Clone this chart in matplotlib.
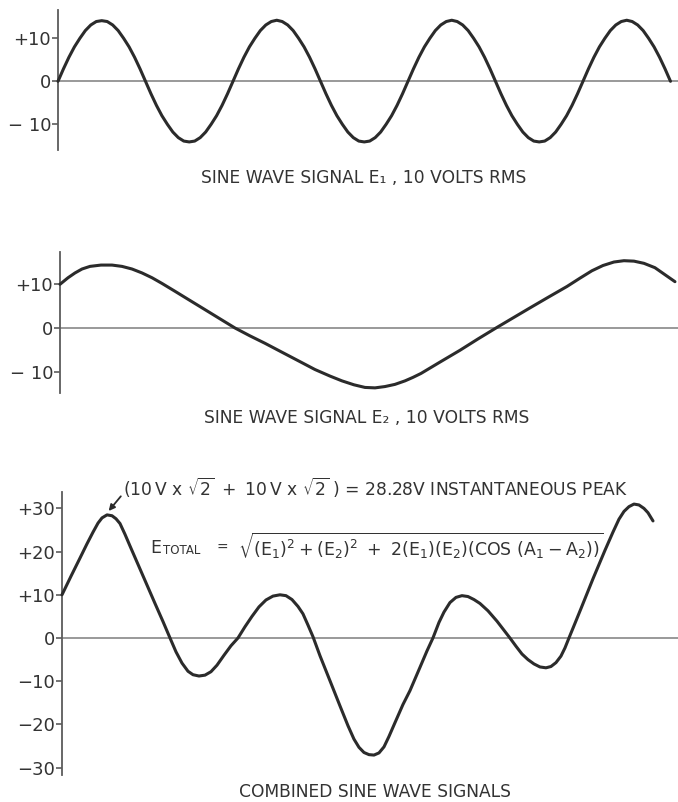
import numpy as np
import matplotlib
matplotlib.use("Agg")
import matplotlib.pyplot as plt

plt.rcParams['font.family'] = ['DejaVu Sans']
plt.rcParams['mathtext.fontset'] = 'dejavusans'
plt.rcParams['mathtext.default'] = 'regular'

# ---- data (time axis in degrees of E1 phase) ----
e1_t = np.arange(0, 1261, 11.25)
e1_v = [0, 2.9, 5.6, 8.0, 10.0, 11.8, 13.1, 13.9, 14.1, 13.9, 13.1, 11.8, 10.0, 8.0, 5.6, 2.9,
        0, -2.9, -5.6, -8.0, -10.0, -11.8, -13.1, -13.9, -14.1, -13.9, -13.1, -11.8, -10.0, -8.0, -5.6, -2.9,
        0, 2.9, 5.6, 8.0, 10.0, 11.8, 13.1, 13.9, 14.2, 13.9, 13.1, 11.8, 10.0, 8.0, 5.6, 2.9,
        0, -2.9, -5.6, -8.0, -10.0, -11.8, -13.1, -13.9, -14.1, -13.9, -13.1, -11.8, -10.0, -8.0, -5.6, -2.9,
        0, 2.9, 5.6, 8.0, 10.0, 11.8, 13.1, 13.9, 14.2, 13.9, 13.1, 11.8, 10.0, 8.0, 5.6, 2.9,
        0, -2.9, -5.6, -8.0, -10.0, -11.8, -13.1, -13.9, -14.1, -13.9, -13.1, -11.8, -10.0, -8.0, -5.6, -2.9,
        0, 2.9, 5.6, 8.0, 10.0, 11.8, 13.1, 13.9, 14.2, 13.9, 13.1, 11.8, 10.0, 8.0, 5.6, 2.9, 0]

e2_t = [0, 16.5, 30.9, 45.3, 61.7, 84.3, 107, 127.5, 148.1, 168.7, 189.3, 209.8, 236.6, 267.4,
        298.3, 329.1, 360, 390.8, 421.7, 452.5, 493.7, 524.5, 555.4, 580.1, 604.8, 627.4, 648,
        668.5, 689.1, 709.7, 726.1, 742.6, 781.7, 822.8, 859.9, 896.9, 931.8, 966.8, 1003.8,
        1042.9, 1069.6, 1094.3, 1117, 1139.6, 1160.1, 1180.7, 1201.3, 1223.9, 1244.5, 1265.1]
e2_v = [10.0, 11.5, 12.6, 13.5, 14.1, 14.4, 14.4, 14.1, 13.5, 12.6, 11.5, 10.2, 8.4, 6.3,
        4.2, 2.1, 0, -1.8, -3.5, -5.3, -7.7, -9.5, -11.0, -12.1, -13.0, -13.6, -13.7,
        -13.4, -12.9, -12.1, -11.3, -10.4, -7.8, -5.1, -2.5, 0, 2.3, 4.6, 7.0,
        9.5, 11.4, 13.1, 14.3, 15.1, 15.4, 15.3, 14.8, 13.8, 12.2, 10.6]

ec_t = [0, 18.5, 37, 51.4, 63.8, 74.1, 82.3, 92.6, 102.9, 111.1, 119.3, 129.6, 139.9, 160.4,
        191.3, 207.8, 222.2, 234.5, 246.8, 259.2, 269.5, 281.8, 294.2, 306.5, 318.8, 333.2,
        347.6, 362, 376.4, 390.8, 405.2, 419.6, 434, 448.4, 460.8, 473.1, 485.5, 495.7, 506,
        516.3, 530.7, 551.3, 571.8, 588.3, 600.6, 610.9, 621.2, 631.5, 641.8, 652.1, 662.4,
        672.6, 685, 701.4, 715.8, 736.4, 750.8, 763.1, 775.5, 785.8, 798.1, 810.5, 822.8,
        835.1, 847.5, 859.8, 876.3, 894.8, 909.2, 921.5, 933.9, 946.2, 958.6, 970.9, 983.2,
        995.6, 1005.9, 1016.2, 1026.4, 1034.7, 1042.9, 1055.3, 1067.6, 1092.3, 1117, 1133.4,
        1145.8, 1156.1, 1166.3, 1176.6, 1186.9, 1197.2, 1205.5, 1215.8]
ec_v = [10.0, 14.3, 18.5, 21.8, 24.5, 26.6, 27.8, 28.5, 28.3, 27.6, 26.5, 24.0, 21.3, 16.0,
        8.0, 3.8, 0, -3.2, -5.8, -7.7, -8.5, -8.8, -8.6, -7.8, -6.3, -4.0,
        -1.8, 0, 2.6, 5.0, 7.2, 8.8, 9.7, 10.0, 9.8, 8.9, 7.3, 5.6, 3.0,
        0.3, -4.1, -9.9, -15.7, -20.3, -23.4, -25.3, -26.5, -27.0, -27.1, -26.6, -25.2,
        -22.8, -19.6, -15.4, -12.2, -6.8, -3.0, 0, 3.6, 6.0, 8.2, 9.4, 9.8,
        9.6, 8.9, 8.0, 6.3, 3.9, 1.8, 0, -1.9, -3.7, -5.0, -6.0, -6.7,
        -6.9, -6.6, -5.7, -4.2, -2.3, 0, 3.4, 6.8, 13.7, 20.3, 24.5,
        27.5, 29.3, 30.4, 31.0, 30.8, 30.0, 29.0, 27.1]

ticks_small = [-10, 0, 10]
ticklabels_small = ['\u2212 10', '0', '+10']
ticks_big = [-30, -20, -10, 0, 10, 20, 30]
ticklabels_big = ['\u221230', '\u221220', '\u221210', '0', '+10', '+20', '+30']

# ---- figure ----
W, H = 678, 802
fig = plt.figure(figsize=(W / 100, H / 100), dpi=100)
fig.patch.set_facecolor('white')

PX = 0.4861  # pixels per degree
CURVE = '#2b2b2b'
AXC = '#5c5c5c'
ZC = '#7d7d7d'
TXT = '#333333'


def make_ax(axis_x, top, bottom, zero, scale):
    ax = fig.add_axes([axis_x / W, 1 - bottom / H, (W - axis_x) / W, (bottom - top) / H])
    ax.set_xlim(0, (W - axis_x) / PX)
    ax.set_ylim(-(bottom - zero) / scale, (zero - top) / scale)
    for s in ['top', 'right', 'bottom']:
        ax.spines[s].set_visible(False)
    ax.spines['left'].set_color(AXC)
    ax.spines['left'].set_linewidth(1.3)
    ax.set_xticks([])
    ax.tick_params(axis='y', direction='out', length=4, width=1.2, color=AXC,
                   pad=1, labelsize=13, labelcolor=TXT)
    ax.axhline(0, color=ZC, lw=1.1, zorder=1)
    ax.patch.set_alpha(0)
    return ax


def curve(ax, t, v):
    ax.plot(t, v, color=CURVE, lw=2.2, solid_joinstyle='round',
            solid_capstyle='round', zorder=3, clip_on=False)


ax1 = make_ax(58, 10, 150, 81.3, 4.3)
ax1.set_yticks(ticks_small)
ax1.set_yticklabels(ticklabels_small)
curve(ax1, e1_t, e1_v)

ax2 = make_ax(60, 252, 393, 328, 4.37)
ax2.set_yticks(ticks_small)
ax2.set_yticklabels(ticklabels_small)
curve(ax2, e2_t, e2_v)

ax3 = make_ax(62, 492, 775, 638, 4.32)
ax3.set_yticks(ticks_big)
ax3.set_yticklabels(ticklabels_big)
curve(ax3, ec_t, ec_v)

# arrow to the first combined peak
ax3.annotate('', xy=(96, 29.4), xytext=(121, 32.8),
             arrowprops=dict(arrowstyle='-|>', color=CURVE, lw=1.3,
                             mutation_scale=9, shrinkA=0, shrinkB=0))


def ftext(x, y, s, **kw):
    fig.text(x / W, 1 - y / H, s, color=TXT, **kw)


ftext(364, 178, 'SINE WAVE SIGNAL E\u2081 , 10 VOLTS RMS', ha='center', va='center', fontsize=12.3)
ftext(367, 418, 'SINE WAVE SIGNAL E\u2082 , 10 VOLTS RMS', ha='center', va='center', fontsize=12.3)
ftext(375, 792, 'COMBINED SINE WAVE SIGNALS', ha='center', va='center', fontsize=12.3)

ftext(123, 488, r'($10\,V\ x\ \sqrt{2}\ +\ 10\,V\ x\ \sqrt{2}$ ) = 28.28V INSTANTANEOUS PEAK',
      ha='left', va='center', fontsize=12.3)

ftext(150, 548, 'E', ha='left', va='center', fontsize=12.5)
ftext(163, 551, 'TOTAL', ha='left', va='center', fontsize=8.5)
ftext(216, 548, '=', ha='left', va='center', fontsize=10)
ftext(238, 546, r'$\sqrt{(E_1)^2 + (E_2)^2\ +\ 2(E_1)(E_2)(COS\ (A_1 - A_2))}$',
      ha='left', va='center', fontsize=12.5)

fig.savefig('out.png', dpi=100, facecolor='white')
